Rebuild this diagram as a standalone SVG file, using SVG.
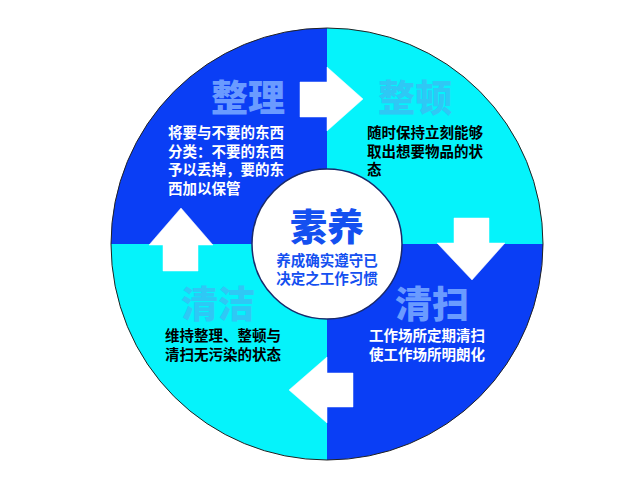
<svg xmlns="http://www.w3.org/2000/svg" width="640" height="480" viewBox="0 0 640 480">
<style>
.dk{fill:#0a3ef5}.cy{fill:#05f3fb}
.ttl{font-family:"Noto Sans CJK SC",sans-serif;font-weight:900;font-size:37px;text-anchor:middle}
.b{font-family:"Noto Sans CJK SC",sans-serif;font-weight:700;font-size:14.5px}
.arr{fill:#fff;stroke:#fff;stroke-width:0.5}
</style>
<rect width="640" height="480" fill="#fff"/>
<g id="q-tl"><path class="dk" d="M327,244 L111,244 A216,216 0 0 1 327,28 Z"/>
<text class="ttl" x="248" y="112" fill="#6a9bff">整理</text>
<text class="b" fill="#fff"><tspan x="168" y="138">将要与不要的东西</tspan><tspan x="168" y="156.5">分类：不要的东西</tspan><tspan x="168" y="175">予以丢掉，要的东</tspan><tspan x="168" y="193.5">西加以保管</tspan></text></g>
<g id="q-tr"><path class="cy" d="M327,244 L327,28 A216,216 0 0 1 543,244 Z"/>
<text class="ttl" x="415" y="112" fill="#2fc8f5">整顿</text>
<text class="b" fill="#000"><tspan x="367" y="138">随时保持立刻能够</tspan><tspan x="367" y="156.5">取出想要物品的状</tspan><tspan x="367" y="175">态</tspan></text></g>
<g id="q-br"><path class="dk" d="M327,244 L543,244 A216,216 0 0 1 327,460 Z"/>
<text class="ttl" x="432" y="318" fill="#6a9bff">清扫</text>
<text class="b" fill="#fff"><tspan x="369" y="341">工作场所定期清扫</tspan><tspan x="369" y="359.5">使工作场所明朗化</tspan></text></g>
<g id="q-bl"><path class="cy" d="M327,244 L327,460 A216,216 0 0 1 111,244 Z"/>
<text class="ttl" x="218" y="318" fill="#2fc8f5">清洁</text>
<text class="b" fill="#000"><tspan x="165" y="341">维持整理、整顿与</tspan><tspan x="165" y="359.5">清扫无污染的状态</tspan></text></g>
<circle cx="327" cy="244" r="216" fill="none" stroke="#222" stroke-width="1"/>
<g id="connectors">
<polygon class="arr" points="300,82 327,82 327,67 363,99 327,131 327,117 300,117"/>
<polygon class="arr" points="454,218 489,218 489,243 505,243 472,280 437,243 454,243"/>
<polygon class="arr" points="353,373 327,373 327,357 289,390 327,423 327,407 353,407"/>
<polygon class="arr" points="163,271 163,245 149,245 181,208 213,245 198,245 198,271"/>
</g>
<g id="center"><circle cx="327" cy="244" r="75" fill="#fff" stroke="#1a2a6a" stroke-width="1.5"/>
<text class="ttl" x="327" y="241" fill="#1450f0" font-size="38">素养</text>
<text class="b" fill="#1450f0" text-anchor="middle"><tspan x="327" y="266">养成确实遵守已</tspan><tspan x="327" y="284">决定之工作习惯</tspan></text></g>
</svg>
